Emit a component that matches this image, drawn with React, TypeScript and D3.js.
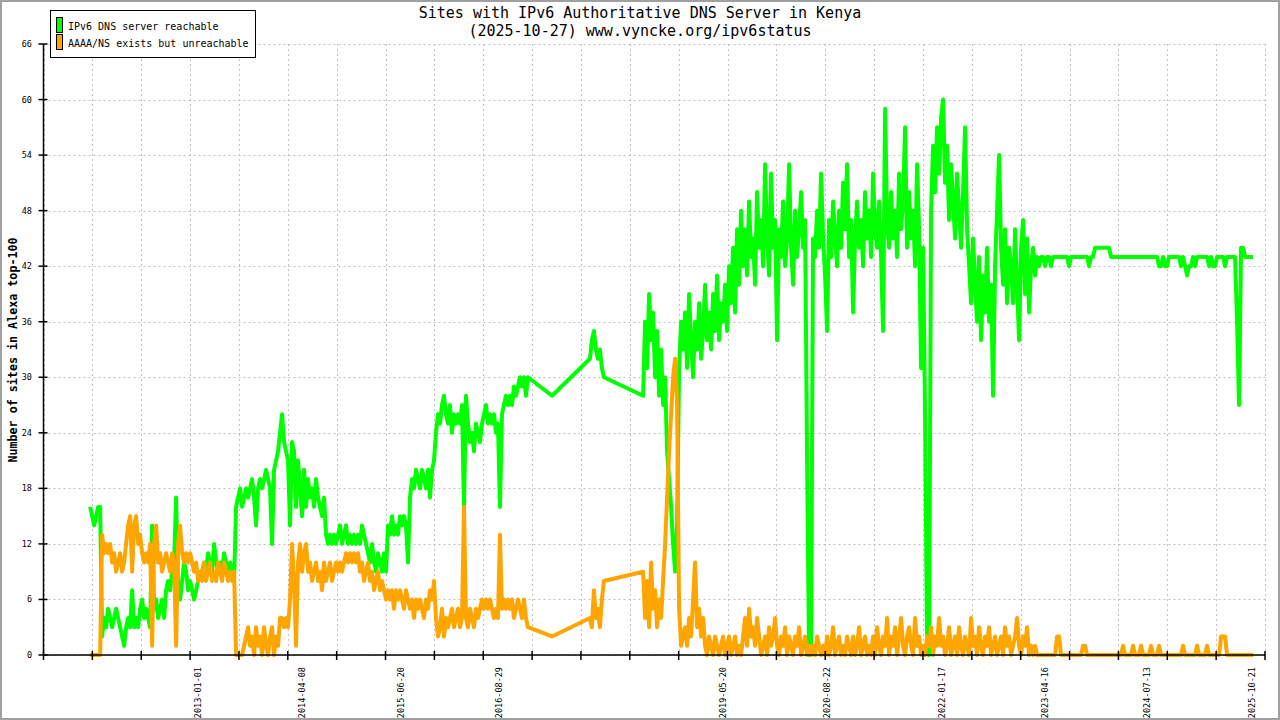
import React from "react";
import * as d3 from "d3";

const TITLE_LINES = [
  "Sites with IPv6 Authoritative DNS Server in Kenya",
  "(2025-10-27) www.vyncke.org/ipv6status",
];
const Y_TITLE = "Number of sites in Alexa top-100";
const SERIES_NAMES = ["IPv6 DNS server reachable", "AAAA/NS exists but unreachable"];
const SERIES_COLORS = ["#00ff00", "#ffa500"];
const X_DOMAIN = ["2011-02-15", "2025-12-19"];
const X_LABEL_DATES = [
  "2013-01-01", "2014-04-08", "2015-06-20", "2016-08-29", "2019-05-20",
  "2020-08-22", "2022-01-17", "2023-04-16", "2024-07-13", "2025-10-21",
];
const Y_TICKS = [0, 6, 12, 18, 24, 30, 36, 42, 48, 54, 60, 66];
const X_TICK_COUNT = 26;

// measurement runs (first date, last date); samples are evenly spread in each run
const RUN_SPANS = [
  ["2011-09-10", "2017-01-04"],
  ["2017-04-21", "2017-04-21"],
  ["2017-10-06", "2017-12-07"],
  ["2018-05-30", "2025-10-27"],
];

const reachable1 = [
  16,15,14,15,16, 16,2,4,3,5, 4,3,4,5,4, 3,2,1,3,4, 3,7,3,4,3,
  5,6,4,5,4, 3,14,5,6,4, 5,6,4,7,8, 7,9,10,17,7, 6,8,10,9,7,
  8,7,6,7,8, 9,9,10,9,11, 10,9,12,10,9, 10,9,11,10,9, 10,9,8,16,17,
  18,16,17,18,17, 18,19,17,14,18, 19,18,19,20,19, 18,12,20,21,22, 24,26,23,22,21,
  14,23,22,16,21, 18,15,20,16,19, 17,18,16,19,17, 16,15,17,13,12, 13,12,13,12,13,
  14,12,13,14,12, 13,12,13,12,13, 12,14,13,12,11, 10,12,10,9,11, 10,9,11,9,14,
  13,15,13,14,13, 15,14,15,14,10, 17,19,18,20,19, 18,20,19,18,20, 17,20,21,24,26,
  25,27,28,26,25, 27,24,26,25,26, 25,27,16,28,25, 23,24,22,25,24, 23,25,26,27,25,
  26,25,26,24,25, 16,26,27,28,27, 28,27,29,28,29, 30,29,30,28,30,
];
const unreachable1 = [
  0,0,0,0,0, 0,13,11,12,11, 12,10,11,9,10, 11,9,10,12,14, 15,9,14,15,12,
  13,11,10,11,10, 12,1,12,14,10, 11,9,10,11,10, 9,11,10,1,12, 14,11,10,11,10,
  11,10,9,10,8, 9,8,10,8,9, 10,8,9,8,10, 9,8,10,9,8, 9,8,9,0,0,
  0,0,1,2,3, 1,2,0,3,1, 2,0,3,1,0, 2,3,0,2,1, 4,4,3,4,3,
  6,12,8,1,10, 12,9,11,12,9, 10,8,9,10,8, 9,7,10,8,9, 10,8,9,10,9,
  10,9,10,11,10, 11,10,11,10,11, 9,10,8,9,10, 8,9,7,8,9, 7,8,7,6,7,
  6,7,5,7,6, 7,6,5,7,6, 5,6,4,6,5, 6,5,4,6,5, 7,6,8,4,2,
  3,5,2,4,3, 4,5,3,4,5, 3,4,16,4,3, 5,4,3,5,4, 5,6,5,6,5,
  6,5,4,5,4, 13,5,6,5,6, 5,6,4,5,6, 5,4,6,4,3,
];
const reachable2 = [28];
const unreachable2 = [2];
const reachable3 = [32, 34, 35, 33, 32, 33, 31, 30];
const unreachable3 = [4, 3, 7, 4, 5, 3, 6, 8];
const reachable4 = [
  28,36,31,39,34, 37,30,35,28,33, 27,30,22,19,16, 12,9,14,31,36, 33,37,31,39,34,
  30,36,33,38,32, 35,40,34,37,33, 39,35,41,34,38, 36,40,35,42,38, 44,37,46,40,48,
  42,46,41,49,43, 45,40,50,44,47, 42,53,45,41,52, 44,47,34,46,43, 49,42,45,53,44,
  40,48,43,46,50, 44,47,21,0,1, 45,43,48,44,52, 45,41,35,47,43, 49,45,42,48,44,
  51,46,53,43,47, 37,45,49,44,47, 42,50,45,48,43, 52,46,44,49,43, 35,59,47,44,50,
  45,48,43,52,46, 49,57,44,50,45, 48,42,53,46,31, 44,26,1,0,48, 55,50,57,52,58,
  60,51,55,47,53, 49,45,52,48,44, 50,57,46,42,38, 45,40,36,43,34, 41,37,44,36,40,
  28,42,48,54,44, 40,46,38,44,42, 38,46,40,34,44, 47,39,45,37,42, 44,41,43,42,43,
  43,42,43,43,42, 43,43,43,43,43, 43,43,43,42,43, 43,43,43,43,43, 43,43,43,42,43,
  43,44,44,44,44, 44,44,44,44,43, 43,43,43,43,43, 43,43,43,43,43, 43,43,43,43,43,
  43,43,43,43,43, 43,43,43,42,42, 43,42,42,43,43, 43,43,43,43,42, 43,42,41,42,42,
  43,42,43,43,43, 43,43,43,42,43, 42,42,43,43,43, 43,42,43,43,43, 43,43,36,27,44,
  44,43,43,43,43, 43,
];
const unreachable4 = [
  9,4,8,3,10, 5,7,3,6,4, 8,12,17,22,26, 30,32,27,5,1, 2,3,1,4,2,
  6,10,3,5,2, 4,1,0,2,1, 0,2,1,0,1, 2,0,1,2,0, 1,2,0,1,0,
  2,4,1,5,2, 3,1,4,2,0, 1,2,0,3,1, 2,4,1,0,2, 1,3,0,2,1,
  0,2,1,3,0, 1,2,0,1,0, 1,0,2,1,0, 1,0,2,0,1, 3,0,1,2,0,
  1,0,2,1,0, 2,0,1,3,0, 1,2,0,1,0, 2,0,3,1,0, 2,1,4,0,2,
  1,3,0,2,4, 1,0,2,3,1, 0,4,1,2,0, 1,0,2,1,3, 0,2,1,4,1,
  2,0,1,3,0, 1,2,0,3,1, 0,2,1,0,4, 1,2,0,3,1, 0,2,1,3,0,
  1,2,0,1,2, 0,3,1,2,0, 1,2,4,1,0, 2,1,3,0,1, 0,1,0,0,0,
  0,0,0,0,0, 0,0,2,2,0, 0,0,0,0,0, 0,0,0,0,0, 1,1,0,0,0,
  0,0,0,0,0, 0,0,0,0,0, 0,0,0,0,0, 1,0,0,0,0, 1,0,0,0,1,
  0,0,0,0,1, 0,0,0,1,0, 0,0,0,0,0, 0,0,0,0,0, 1,0,0,0,0,
  0,0,1,0,0, 0,0,1,0,0, 0,0,0,0,2, 2,2,0,0,0, 0,0,0,0,0,
  0,0,0,0,0, 0,
];

const RUNS = [
  { span: RUN_SPANS[0], g: reachable1, o: unreachable1 },
  { span: RUN_SPANS[1], g: reachable2, o: unreachable2 },
  { span: RUN_SPANS[2], g: reachable3, o: unreachable3 },
  { span: RUN_SPANS[3], g: reachable4, o: unreachable4 },
];

type P = { date: Date; g: number; o: number };

const W = 1280;
const H = 720;
const LEFT = 43.5;
const RIGHT = 1265;
const TOP = 44;
const BOTTOM = 655;
const MONO = "'DejaVu Sans Mono', 'Liberation Mono', monospace";

export default function App() {
  const parse = d3.utcParse("%Y-%m-%d");
  const x = d3.scaleUtc().domain(X_DOMAIN.map((s) => parse(s) as Date)).range([LEFT, RIGHT]);
  const y = d3.scaleLinear().domain([0, 66]).range([BOTTOM, TOP]);

  const points: P[] = RUNS.flatMap((run) => {
    const t0 = (parse(run.span[0]) as Date).getTime();
    const t1 = (parse(run.span[1]) as Date).getTime();
    const n = run.g.length;
    return run.g.map((v, i) => ({
      date: new Date(n > 1 ? t0 + ((t1 - t0) * i) / (n - 1) : t0),
      g: v,
      o: run.o[i],
    }));
  });

  const lineG = d3.line<P>().x((d) => x(d.date)).y((d) => y(d.g));
  const lineO = d3.line<P>().x((d) => x(d.date)).y((d) => y(d.o));

  const [d0, d1] = x.domain();
  const tickDates = d3.range(X_TICK_COUNT).map(
    (i) => new Date(d0.getTime() + ((d1.getTime() - d0.getTime()) * i) / (X_TICK_COUNT - 1))
  );

  return (
    <svg width={W} height={H} style={{ display: "block" }}>
      <style>{"body{margin:0}"}</style>
      <rect x={0} y={0} width={W} height={H} fill="#ffffff" />
      <rect x={1} y={1} width={W - 2} height={H - 2} fill="none" stroke="#a0a0a0" strokeWidth={2} />

      {/* grid */}
      <g stroke="#c0c0c0" strokeWidth={1} strokeDasharray="2,3">
        {Y_TICKS.map((t) => (
          <line key={"gy" + t} x1={LEFT} x2={RIGHT} y1={Math.round(y(t)) + 0.5} y2={Math.round(y(t)) + 0.5} />
        ))}
        {tickDates.map((d, i) => (
          <line key={"gx" + i} x1={Math.round(x(d)) + 0.5} x2={Math.round(x(d)) + 0.5} y1={TOP} y2={BOTTOM} />
        ))}
      </g>

      {/* data */}
      <path d={lineG(points) || ""} fill="none" stroke={SERIES_COLORS[0]} strokeWidth={4} strokeLinejoin="round" />
      <path d={lineO(points) || ""} fill="none" stroke={SERIES_COLORS[1]} strokeWidth={4} strokeLinejoin="round" />

      {/* axes */}
      <g stroke="#000" strokeWidth={1.5}>
        <line x1={LEFT} x2={LEFT} y1={TOP} y2={BOTTOM} />
        <line x1={LEFT} x2={RIGHT} y1={BOTTOM} y2={BOTTOM} />
        {Y_TICKS.map((t) => (
          <line key={"ty" + t} x1={LEFT - 5} x2={LEFT + 4} y1={y(t)} y2={y(t)} />
        ))}
        {tickDates.map((d, i) => (
          <line key={"tx" + i} x1={x(d)} x2={x(d)} y1={BOTTOM - 4} y2={BOTTOM + 5} />
        ))}
      </g>

      {/* tick labels */}
      <g fontFamily={MONO} fontSize={8.5} fill="#000">
        {Y_TICKS.map((t) => (
          <text key={"ly" + t} x={32} y={y(t)} dy="0.35em" textAnchor="end">
            {t}
          </text>
        ))}
        {X_LABEL_DATES.map((s) => {
          const d = parse(s) as Date;
          return (
            <text
              key={"lx" + s}
              transform={`translate(${x(d)},667) rotate(-90)`}
              dy="0.35em"
              textAnchor="end"
            >
              {s}
            </text>
          );
        })}
      </g>

      {/* y title */}
      <text
        transform={`translate(13,350) rotate(-90)`}
        textAnchor="middle"
        dy="0.35em"
        fontFamily={MONO}
        fontSize={11.7}
        fontWeight="bold"
      >
        {Y_TITLE}
      </text>

      {/* title */}
      <g fontFamily={MONO} fontSize={15} textAnchor="middle" fill="#000">
        <text x={640} y={18}>{TITLE_LINES[0]}</text>
        <text x={640} y={36}>{TITLE_LINES[1]}</text>
      </g>

      {/* legend */}
      <rect x={50.5} y={10.5} width={205} height={47} fill="#fff" stroke="#000" strokeWidth={1} />
      <rect x={56.5} y={17.5} width={6} height={15} fill={SERIES_COLORS[0]} stroke="#000" strokeWidth={1} />
      <rect x={56.5} y={34.5} width={6} height={15} fill={SERIES_COLORS[1]} stroke="#000" strokeWidth={1} />
      <g fontFamily={MONO} fontSize={10} fill="#000">
        <text x={68} y={29.5}>{SERIES_NAMES[0]}</text>
        <text x={68} y={46.5}>{SERIES_NAMES[1]}</text>
      </g>
    </svg>
  );
}
